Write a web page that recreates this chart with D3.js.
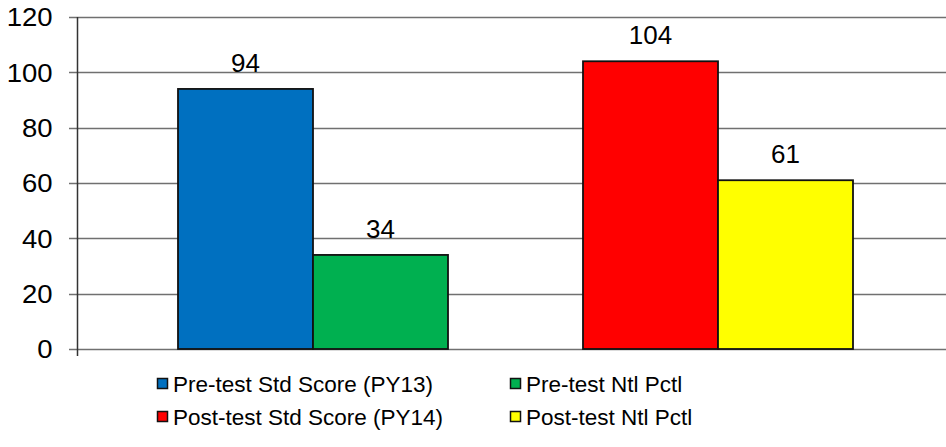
<!DOCTYPE html>
<html>
<head>
<meta charset="utf-8">
<script src="https://cdn.jsdelivr.net/npm/d3@7"></script>
<style>
  html, body { margin: 0; padding: 0; background: #fff; }
  svg { display: block; font-family: "Liberation Sans", Arial, sans-serif; }
</style>
</head>
<body>
<svg id="chart" width="946" height="447"></svg>
<script>
// Score data: two groups (pre-test / post-test), two bars each
const groups = ["PY13", "PY14"];
const seriesNames = ["Pre-test Std Score (PY13)", "Pre-test Ntl Pctl", "Post-test Std Score (PY14)", "Post-test Ntl Pctl"];
const seriesGroup = ["PY13", "PY13", "PY14", "PY14"];
const seriesSlot = [0, 1, 0, 1];
const seriesValues = [94, 34, 104, 61];
const seriesColors = ["#0070C0", "#00B050", "#FF0000", "#FFFF00"];
const yTicks = [0, 20, 40, 60, 80, 100, 120];

const svg = d3.select("#chart");
const plot = { left: 77, right: 946, top: 17, bottom: 349 };
const fontTick = 25, tickStretch = 1.1, fontValue = 26, fontLegend = 22.5;

const y = d3.scaleLinear().domain([0, 120]).range([plot.bottom, plot.top]);
const x = d3.scaleBand().domain(groups).range([178, 853]).paddingInner(1 / 3).paddingOuter(0);
const xs = d3.scaleBand().domain([0, 1]).range([0, x.bandwidth()]);

// Horizontal gridlines (they also serve as the left tick marks)
svg.append("g")
  .selectAll("line")
  .data(yTicks)
  .join("line")
  .attr("x1", plot.left - 8)
  .attr("x2", plot.right)
  .attr("y1", d => Math.round(y(d)) + 0.5)
  .attr("y2", d => Math.round(y(d)) + 0.5)
  .attr("stroke", "#707070")
  .attr("stroke-width", 1.3);

// Y axis tick labels, slightly widened
const tickPad = 25;
const yAxis = d3.axisLeft(y).tickValues(yTicks).tickSize(0).tickPadding(tickPad).tickFormat(d3.format("d"));
const gy = svg.append("g")
  .attr("transform", `translate(${plot.left + 0.5},0)`)
  .call(yAxis);
gy.select(".domain").remove();
gy.selectAll(".tick line").remove();
gy.selectAll(".tick text")
  .attr("font-size", fontTick)
  .attr("fill", "#000")
  .attr("font-family", "Liberation Sans, Arial, sans-serif")
  .attr("dy", "0.35em")
  .attr("x", -tickPad / tickStretch)
  .attr("transform", `scale(${tickStretch},1)`);
svg.append("line")
  .attr("x1", plot.left + 0.5).attr("x2", plot.left + 0.5)
  .attr("y1", plot.top).attr("y2", plot.bottom + 7)
  .attr("stroke", "#333").attr("stroke-width", 1.5);

// Bars
const bars = seriesValues.map((v, i) => ({
  name: seriesNames[i], group: seriesGroup[i], slot: seriesSlot[i], value: v, color: seriesColors[i]
}));

svg.append("g")
  .selectAll("rect")
  .data(bars)
  .join("rect")
  .attr("x", d => x(d.group) + xs(d.slot))
  .attr("y", d => y(d.value))
  .attr("width", xs.bandwidth())
  .attr("height", d => y(0) - y(d.value))
  .attr("fill", d => d.color)
  .attr("stroke", "#111")
  .attr("stroke-width", 1.8);

// Value labels (baseline sits a fixed gap above each bar)
svg.append("g")
  .selectAll("text")
  .data(bars)
  .join("text")
  .attr("x", d => x(d.group) + xs(d.slot) + xs.bandwidth() / 2)
  .attr("y", d => y(d.value) - 17)
  .attr("text-anchor", "middle")
  .attr("font-size", fontValue)
  .attr("fill", "#000")
  .text(d => d.value);

// Legend
const legendCols = [157, 510];
const legendRows = [384, 417];
const legend = svg.append("g")
  .selectAll("g")
  .data(bars)
  .join("g")
  .attr("transform", (d, i) => `translate(${legendCols[i % 2]},${legendRows[Math.floor(i / 2)]})`);
legend.append("rect")
  .attr("x", 0.5).attr("y", -5.5)
  .attr("width", 10).attr("height", 10)
  .attr("fill", d => d.color)
  .attr("stroke", "#111").attr("stroke-width", 1.5);
legend.append("text")
  .attr("x", 16)
  .attr("y", 0)
  .attr("dy", "0.35em")
  .attr("font-size", fontLegend)
  .attr("fill", "#000")
  .text(d => d.name);
</script>
</body>
</html>
